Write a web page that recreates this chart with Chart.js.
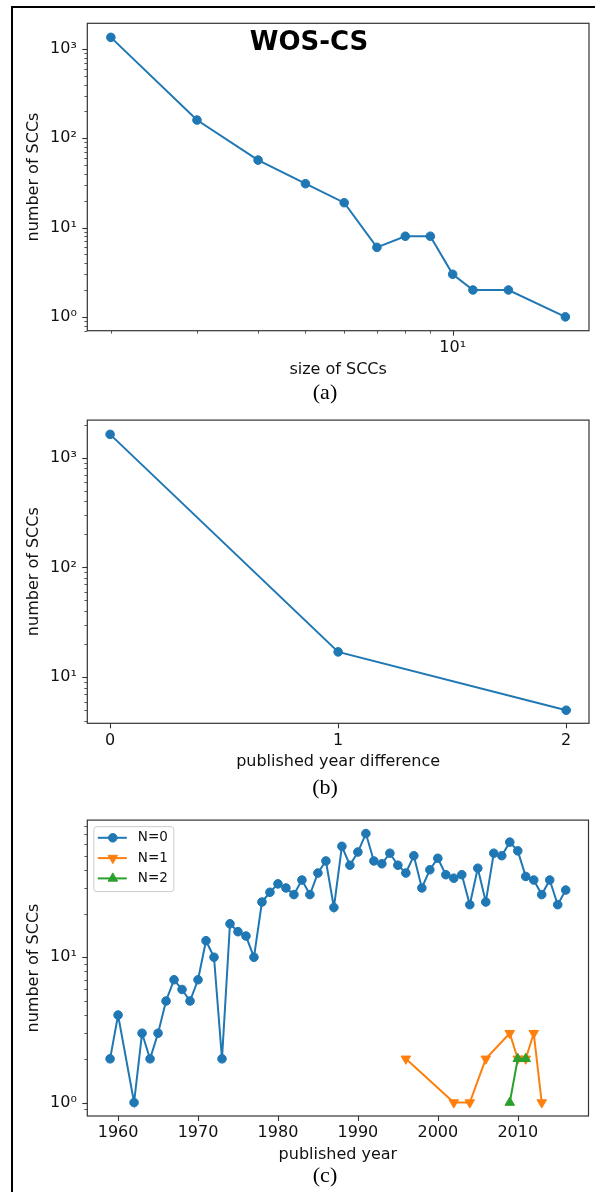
<!DOCTYPE html>
<html><head><meta charset="utf-8">
<script src="https://cdn.jsdelivr.net/npm/chart.js@4/dist/chart.umd.min.js"></script>
<style>
html,body{margin:0;padding:0;background:#fff;}
#page{position:relative;width:595px;height:1192px;overflow:hidden;background:#fff;}
canvas{position:absolute;left:0;}
.frame{position:absolute;left:11px;top:6px;width:620px;height:1220px;border:2px solid #000;box-sizing:border-box;}
.sub{position:absolute;font-family:"Liberation Serif","Times New Roman",serif;font-size:22px;color:#000;transform:translate(-50%,-50%);line-height:1;white-space:nowrap;}
</style></head>
<body><div id="page">
<canvas id="ca" width="595" height="400" style="top:0px"></canvas>
<canvas id="cb" width="595" height="400" style="top:400px"></canvas>
<canvas id="cc" width="595" height="392" style="top:800px"></canvas>
<div class="frame"></div>
<div class="sub" style="left:325px;top:392px">(a)</div>
<div class="sub" style="left:325px;top:787px">(b)</div>
<div class="sub" style="left:325px;top:1175px">(c)</div>
</div>
<script>
// ---------- data ----------
const chartTitle = 'WOS-CS';
const yTitle = 'number of SCCs';
const xTitleA = 'size of SCCs';
const xTitleB = 'published year difference';
const xTitleC = 'published year';

const sccSizes  = [2, 3, 4, 5, 6, 7, 8, 9, 10, 11, 13, 17];
const sccCounts = [1350, 160, 57, 31, 19, 6, 8, 8, 3, 2, 2, 1];

const yearDiffs  = [0, 1, 2];
const diffCounts = [1630, 17, 5];

const yearsN0 = [1959,1960,1962,1963,1964,1965,1966,1967,1968,1969,1970,1971,1972,1973,1974,1975,1976,1977,1978,1979,
                 1980,1981,1982,1983,1984,1985,1986,1987,1988,1989,1990,1991,1992,1993,1994,1995,1996,1997,1998,1999,
                 2000,2001,2002,2003,2004,2005,2006,2007,2008,2009,2010,2011,2012,2013,2014,2015,2016];
const countsN0 = [2,4,1,3,2,3,5,7,6,5,7,13,10,2,17,15,14,10,24,28,
                  32,30,27,34,27,38,46,22,58,43,53,71,46,44,52,43,38,50,30,40,
                  48,37,35,37,23,41,24,52,50,62,54,36,34,27,34,23,29];
const yearsN1  = [1996, 2002, 2004, 2006, 2009, 2010, 2011, 2012, 2013];
const countsN1 = [2, 1, 1, 2, 3, 2, 2, 3, 1];
const yearsN2  = [2009, 2010, 2011];
const countsN2 = [1, 2, 2];
const seriesLabels = ['N=0', 'N=1', 'N=2'];

const logTickValues = [1, 10, 100, 1000];
const logTickLabels = ['10⁰', '10¹', '10²', '10³'];
const diffTickValues = [0, 1, 2];
const diffTickLabels = ['0', '1', '2'];
const yearTickValues = [1960, 1970, 1980, 1990, 2000, 2010];
const yearTickLabels = ['1960', '1970', '1980', '1990', '2000', '2010'];

// ---------- styling ----------
const BLUE = '#1f77b4', ORANGE = '#ff7f0e', GREEN = '#2ca02c';
const TXT = '#111';
const FONT = "'DejaVu Sans', sans-serif";
Chart.defaults.font.family = FONT;
Chart.defaults.color = TXT;

function logTicksBetween(min, max) {
  const out = [];
  for (let e = Math.floor(Math.log10(min)); e <= Math.ceil(Math.log10(max)); e++) {
    for (let m = 1; m <= 9; m++) {
      const v = m * Math.pow(10, e);
      if (v >= min * 0.9999 && v <= max * 1.0001) out.push(v);
    }
  }
  return out;
}
function labelFor(values, labels) {
  return (v) => {
    const i = values.findIndex(t => Math.abs(t - v) < 1e-9 * Math.max(1, Math.abs(t)));
    return i >= 0 ? labels[i] : '';
  };
}
const pts = (xs, ys) => xs.map((x, i) => ({x, y: ys[i]}));

const axesDecor = {
  id: 'axesDecor',
  afterDraw(chart) {
    const {ctx, chartArea: a} = chart;
    ctx.save();
    ctx.strokeStyle = '#333';
    ['x', 'y'].forEach(id => {
      const s = chart.scales[id];
      s.ticks.forEach(t => {
        if (t.value < s.min - 1e-9 || t.value > s.max + 1e-9) return;
        const major = t.label !== '' && t.label != null;
        const len = major ? 5 : 3;
        ctx.lineWidth = major ? 1.1 : 0.8;
        const p = Math.round(s.getPixelForValue(t.value)) + 0.5;
        ctx.beginPath();
        if (id === 'x') { ctx.moveTo(p, a.bottom); ctx.lineTo(p, a.bottom + len); }
        else { ctx.moveTo(a.left, p); ctx.lineTo(a.left - len, p); }
        ctx.stroke();
      });
    });
    ctx.lineWidth = 1.2;
    ctx.strokeRect(a.left, a.top, a.right - a.left, a.bottom - a.top);
    const o = chart.options.plugins.axesDecor || {};
    if (o.title) {
      ctx.fillStyle = '#000';
      ctx.font = "bold 26px " + FONT;
      ctx.textAlign = 'center';
      ctx.textBaseline = 'alphabetic';
      ctx.fillText(o.title, a.left + (a.right - a.left) * 0.442, a.top + 27);
    }
    if (o.legend) {
      const x0 = a.left + 6, y0 = a.top + 6, w = 80, h = 65;
      ctx.fillStyle = 'rgba(255,255,255,0.8)';
      ctx.strokeStyle = '#cccccc';
      ctx.lineWidth = 1;
      ctx.beginPath();
      ctx.roundRect(x0 + 0.5, y0 + 0.5, w, h, 3);
      ctx.fill(); ctx.stroke();
      chart.data.datasets.forEach((ds, i) => {
        const cy = y0 + 11.7 + i * 20.3;
        ctx.strokeStyle = ds.borderColor;
        ctx.lineWidth = ds.borderWidth;
        ctx.beginPath(); ctx.moveTo(x0 + 4.5, cy); ctx.lineTo(x0 + 33.5, cy); ctx.stroke();
        ctx.fillStyle = ds.pointBackgroundColor;
        ctx.strokeStyle = ds.pointBorderColor;
        ctx.lineWidth = ds.pointBorderWidth;
        Chart.helpers.drawPoint(ctx, {pointStyle: ds.pointStyle, rotation: ds.pointRotation || 0,
          radius: ds.pointRadius, borderWidth: ds.pointBorderWidth}, x0 + 19.5, cy);
        ctx.fillStyle = TXT;
        ctx.font = "13.5px " + FONT;
        ctx.textAlign = 'left';
        ctx.textBaseline = 'middle';
        ctx.fillText(ds.label, x0 + 44.5, cy);
      });
    }
    ctx.restore();
  }
};

function lineDs(label, data, color, style, rot, r, order) {
  return {
    label, data, order,
    borderColor: color, backgroundColor: color,
    pointBackgroundColor: color, pointBorderColor: color,
    borderWidth: 2, pointRadius: r, pointBorderWidth: 1,
    pointStyle: style, pointRotation: rot, tension: 0
  };
}

function makeChart(id, H, cfg) {
  const ctx = document.getElementById(id);
  return new Chart(ctx, {
    type: 'line',
    data: {datasets: cfg.datasets},
    plugins: [axesDecor],
    options: {
      responsive: false, animation: false, devicePixelRatio: 1,
      layout: {padding: {top: cfg.top, right: 6, bottom: 0, left: 0}},
      plugins: {legend: {display: false}, tooltip: {enabled: false},
                axesDecor: {title: cfg.title, legend: cfg.legend}},
      scales: {
        x: {
          type: cfg.xType, min: cfg.xMin, max: cfg.xMax, bounds: 'data',
          grid: {display: false, drawTicks: false}, border: {display: false},
          afterBuildTicks: s => { s.ticks = cfg.xTicks.map(v => ({value: v})); },
          afterFit: s => { s.height = H - cfg.bottom; },
          ticks: {autoSkip: false, maxRotation: 0, padding: 7.7, font: {size: 16, lineHeight: 1.2},
                  callback: v => cfg.xLabel(v)},
          title: {display: true, text: cfg.xTitle, font: {size: 16, lineHeight: 1.2},
                  padding: {top: 0, bottom: H - cfg.bottom - 39 - 9.6}}
        },
        y: {
          type: 'logarithmic', min: cfg.yMin, max: cfg.yMax, bounds: 'data',
          grid: {display: false, drawTicks: false}, border: {display: false},
          afterBuildTicks: s => { s.ticks = logTicksBetween(cfg.yMin, cfg.yMax).map(v => ({value: v})); },
          afterFit: s => { s.width = 87.3; },
          ticks: {autoSkip: false, padding: 10.5, font: {size: 16, lineHeight: 1.2},
                  callback: v => labelFor(logTickValues, logTickLabels)(v)},
          title: {display: true, text: yTitle, font: {size: 16, lineHeight: 1.2},
                  padding: {top: 24.4, bottom: 0}}
        }
      }
    }
  });
}

// (a)
makeChart('ca', 400, {
  top: 23.3, bottom: 330.7, title: chartTitle, legend: false,
  xType: 'logarithmic', xMin: 1.79, xMax: 19.0,
  xTicks: logTicksBetween(1.79, 19.0), xLabel: labelFor(logTickValues, logTickLabels),
  xTitle: xTitleA, yMin: 0.70, yMax: 1940,
  datasets: [lineDs('a', pts(sccSizes, sccCounts), BLUE, 'circle', 0, 4.3, 0)]
});
// (b)
makeChart('cb', 400, {
  top: 15.7, bottom: 323.3, title: null, legend: false,
  xType: 'linear', xMin: -0.1, xMax: 2.1,
  xTicks: diffTickValues, xLabel: labelFor(diffTickValues, diffTickLabels),
  xTitle: xTitleB, yMin: 3.8, yMax: 2200,
  datasets: [lineDs('b', pts(yearDiffs, diffCounts), BLUE, 'circle', 0, 4.3, 0)]
});
// (c)
makeChart('cc', 392, {
  top: 9, bottom: 316, title: null, legend: true,
  xType: 'linear', xMin: 1956.15, xMax: 2018.85,
  xTicks: yearTickValues, xLabel: labelFor(yearTickValues, yearTickLabels),
  xTitle: xTitleC, yMin: 0.808, yMax: 87.9,
  datasets: [
    lineDs(seriesLabels[0], pts(yearsN0, countsN0), BLUE, 'circle', 0, 4.3, 2),
    lineDs(seriesLabels[1], pts(yearsN1, countsN1), ORANGE, 'triangle', 180, 5.5, 1),
    lineDs(seriesLabels[2], pts(yearsN2, countsN2), GREEN, 'triangle', 0, 5.5, 0)
  ]
});
</script>
</body></html>
